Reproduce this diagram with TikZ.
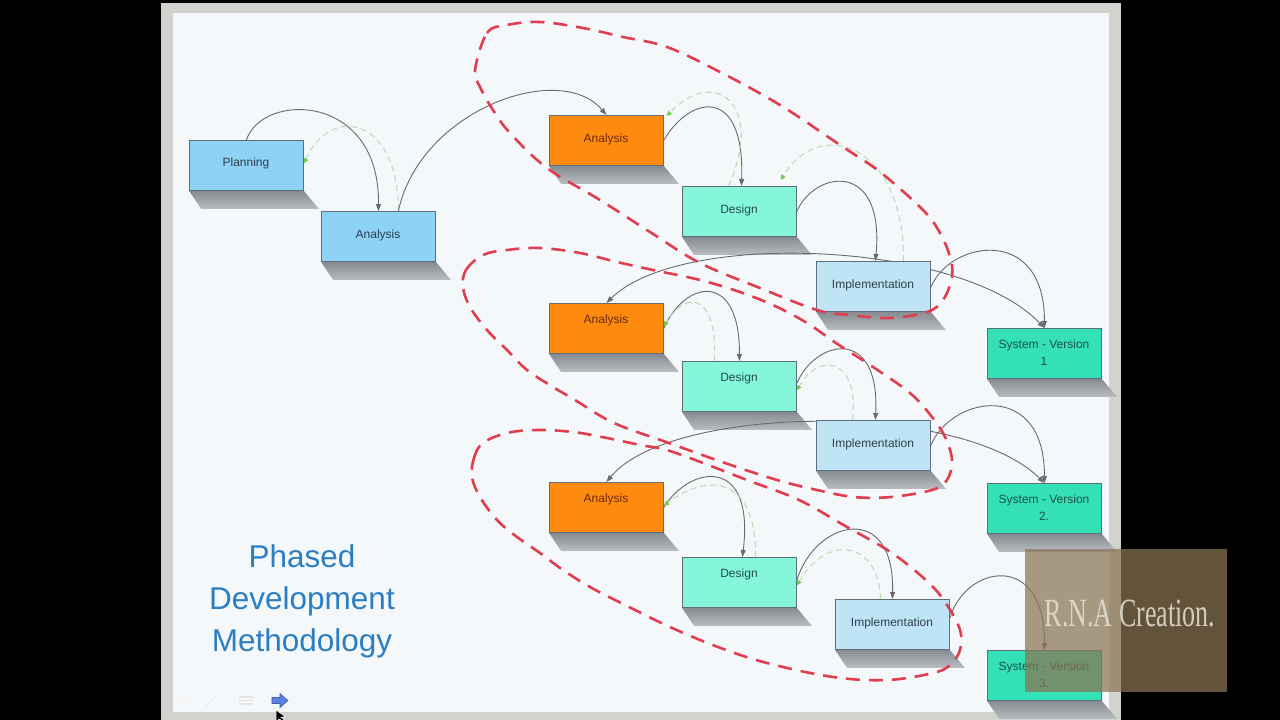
\documentclass[tikz,border=0pt]{standalone}
\usepackage{fontspec}
\setmainfont{Liberation Sans}
\newfontfamily\wmfont{Liberation Serif}
\usetikzlibrary{arrows.meta}
\pgfdeclarelayer{bg}\pgfdeclarelayer{shd}\pgfdeclarelayer{cn}\pgfdeclarelayer{fg}
\pgfsetlayers{bg,shd,cn,main,fg}
\definecolor{slidebg}{HTML}{F5F8FB}
\definecolor{framec}{HTML}{D2D2CE}
\definecolor{cblue}{HTML}{8ED3F5}
\definecolor{corange}{HTML}{FF8A10}
\definecolor{cdesign}{HTML}{86F6DB}
\definecolor{cimpl}{HTML}{BEE4F6}
\definecolor{csys}{HTML}{34E0B6}
\definecolor{bordc}{HTML}{5E6E7A}
\definecolor{txtc}{HTML}{2C3E50}
\definecolor{txto}{HTML}{6B2A05}
\definecolor{txtd}{HTML}{1E5045}
\definecolor{connc}{HTML}{6A6A6A}
\definecolor{greenl}{HTML}{B4DDB0}
\definecolor{greena}{HTML}{72CC48}
\definecolor{redc}{HTML}{E03E4E}
\definecolor{titlec}{HTML}{2C7EC2}
\definecolor{shadtop}{HTML}{858B91}
\definecolor{shadbot}{HTML}{B9BDC1}
\definecolor{wmc}{HTML}{8A7452}
\definecolor{wmt}{HTML}{E6E1D6}
\definecolor{navfill}{HTML}{5B80E0}
\definecolor{navdraw}{HTML}{3A5CB8}
\begin{document}
\begin{tikzpicture}[x=1pt,y=-1pt,
  box/.style={draw=bordc, line width=0.8pt, minimum width=114pt, minimum height=50pt, inner sep=0pt, anchor=north west},
  lbl/.style={font=\fontsize{12}{17}\selectfont, inner sep=0pt, align=center, text height=8.5pt, text depth=2.5pt, text=txtc},
  syslbl/.style={font=\fontsize{12}{17}\selectfont, inner sep=0pt, align=center, text=txtd},
  conn/.style={draw=connc, line width=0.9pt, -{Triangle[length=7pt,width=5pt]}},
  both/.style={draw=connc, line width=0.9pt, {Triangle[length=7pt,width=5pt]}-{Triangle[length=7pt,width=5pt]}},
  back/.style={draw=greenl, line width=1pt, dash pattern=on 6pt off 4pt, -{Triangle[length=5pt,width=5pt,color=greena]}},
  ring/.style={draw=redc, line width=2.6pt, dash pattern=on 14pt off 9pt},
  shadow/.style={top color=shadtop, bottom color=shadbot}
]
\useasboundingbox (0,0) rectangle (1280,720);
\begin{pgfonlayer}{bg}
\fill[black] (0,0) rectangle (1280,720);
\fill[framec] (161,3) rectangle (1121,720);
\fill[slidebg] (173,13) rectangle (1109,712);
\end{pgfonlayer}

% boxes
\node[box, fill=cblue]   (plan) at (189,140) {};
\node[box, fill=cblue]   (an1)  at (321,211) {};
\node[box, fill=corange] (aA)   at (549,115) {};
\node[box, fill=cdesign] (de1)  at (682,186) {};
\node[box, fill=cimpl]   (im1)  at (816,261) {};
\node[box, fill=csys]    (sv1)  at (987,328) {};
\node[box, fill=corange] (aB)   at (549,303) {};
\node[box, fill=cdesign] (de2)  at (682,361) {};
\node[box, fill=cimpl]   (im2)  at (816,420) {};
\node[box, fill=csys]    (sv2)  at (987,483) {};
\node[box, fill=corange] (aC)   at (549,482) {};
\node[box, fill=cdesign] (de3)  at (682,557) {};
\node[box, fill=cimpl]   (im3)  at (835,599) {};
\node[box, fill=csys]    (sv3)  at (987,650) {};

% shadows
\begin{pgfonlayer}{shd}
\foreach \n in {plan,an1,aA,de1,im1,sv1,aB,de2,im2,sv2,aC,de3,im3,sv3}{
  \shade[shadow] (\n.south west) -- (\n.south east) -- ([xshift=15pt,yshift=-18pt]\n.south east)
     -- ([xshift=12pt,yshift=-18pt]\n.south west) -- cycle;
}
\end{pgfonlayer}

% labels
\node[lbl] (planT) at (246,163) {Planning};
\node[lbl] (an1T)  at (378,235) {Analysis};
\node[lbl, text=txto] (aAT) at (606,139) {Analysis};
\node[lbl, text=txtd] (de1T) at (739,210) {Design};
\node[lbl] (im1T)  at (873,285) {Implementation};
\node[lbl, text=txto] (aBT) at (606,320) {Analysis};
\node[lbl, text=txtd] (de2T) at (739,378) {Design};
\node[lbl] (im2T)  at (873,444) {Implementation};
\node[lbl, text=txto] (aCT) at (606,499) {Analysis};
\node[lbl, text=txtd] (de3T) at (739,574) {Design};
\node[lbl] (im3T)  at (892,623) {Implementation};
\node[syslbl] (sv1T) at (1044,353) {System - Version\\1};
\node[syslbl] (sv2T) at (1044,508) {System - Version\\2.};
\node[syslbl] (sv3T) at (1044,675) {System - Version\\3.};

% connectors
\begin{pgfonlayer}{cn}
\draw[conn] (plan.north) .. controls (262,92) and (380,92) .. (an1.north);
\draw[back] ([xshift=20pt]an1.north) .. controls (398,115) and (330,105) .. ([yshift=2pt]plan.east);
\draw[conn] ([xshift=20pt]an1.north) .. controls (420,110) and (560,60) .. (aA.north);

\draw[conn] (aA.east) .. controls (690,95) and (745,85) .. ([xshift=2pt]de1.north);
\draw[back] ([xshift=-11pt]de1.north) .. controls (765,105) and (715,65) .. ([xshift=3pt,yshift=-1pt]aA.north east);
\draw[conn] (de1.east) .. controls (815,170) and (885,160) .. ([xshift=2pt]im1.north);
\draw[back] ([xshift=30pt]im1.north) .. controls (905,145) and (820,115) .. ([xshift=-16pt,yshift=6pt]de1.north east);
\draw[both] (aB.north) .. controls (680,230) and (960,240) .. (sv1.north);
\draw[conn] ([yshift=-1pt]im1.east) .. controls (950,240) and (1045,225) .. (sv1.north);

\draw[conn] (aB.east) .. controls (685,280) and (740,270) .. (de2.north);
\draw[back] ([xshift=-25pt]de2.north) .. controls (718,300) and (690,285) .. ([yshift=2pt]aB.east);
\draw[conn] ([yshift=3pt]de2.east) .. controls (815,340) and (880,325) .. ([xshift=2pt]im2.north);
\draw[back] ([xshift=-21pt]im2.north) .. controls (860,360) and (820,350) .. ([yshift=-4pt]de2.east);
\draw[both] (aC.north) .. controls (670,405) and (960,400) .. (sv2.north);
\draw[conn] (im2.east) .. controls (952,395) and (1045,380) .. (sv2.north);

\draw[conn] (aC.east) .. controls (690,465) and (755,455) .. ([xshift=3pt]de3.north);
\draw[back] ([xshift=16pt]de3.north) .. controls (757,490) and (720,465) .. ([yshift=2pt]aC.east);
\draw[conn] ([yshift=2pt]de3.east) .. controls (815,520) and (895,500) .. (im3.north);
\draw[back] ([xshift=-12pt]im3.north) .. controls (880,545) and (830,530) .. ([yshift=-3pt]de3.east);
\draw[conn] ([yshift=6pt]im3.east) .. controls (965,565) and (1045,550) .. (sv3.north);
\end{pgfonlayer}

% red dashed groupings
\begin{pgfonlayer}{fg}
\draw[ring] plot[smooth cycle, tension=0.6] coordinates {
 (475,70) (487,33) (507,25) (540,22) (583,28) (623,37) (667,47) (720,72) (780,105) (840,145)
 (880,172) (923,210) (940,233) (950,257) (952,277) (943,300) (927,312) (890,318) (850,315)
 (817,310) (760,288) (700,263) (650,232) (600,200) (547,168) (510,133) (493,110) (480,87)};
\draw[ring] plot[smooth cycle, tension=0.6] coordinates {
 (463,287) (466,270) (483,255) (507,250) (540,248) (580,253) (617,262) (653,270) (700,280)
 (740,292) (775,306) (807,323) (836,343) (873,367) (910,393) (932,417) (945,437) (952,460)
 (947,480) (932,490) (891,497) (854,497) (817,490) (777,480) (725,463) (669,443) (614,423)
 (575,400) (553,387) (527,370) (507,350) (487,330) (470,307)};
\draw[ring] plot[smooth cycle, tension=0.6] coordinates {
 (472,477) (474,458) (483,443) (507,433) (537,430) (573,432) (607,438) (640,445) (673,452)
 (747,480) (799,500) (847,527) (892,553) (929,583) (947,605) (960,630) (960,650) (950,665)
 (933,673) (887,680) (833,677) (767,663) (718,647) (670,627) (621,603) (590,587) (563,570)
 (540,553) (517,537) (497,520) (480,497)};

% title
\node[font=\fontsize{31.5}{42}\selectfont, text=titlec, align=center, inner sep=0pt] (title) at (302,601) {Phased\\Development\\Methodology};

% slideshow controls
\fill[white!92!gray] (176,695) rectangle (186,704);
\draw[white!85!gray, line width=1pt] (205,707) -- (216,695);
\draw[white!80!gray, line width=1.2pt] (239,697) -- (253,697) (239,700.5) -- (253,700.5) (239,704) -- (253,704);
\filldraw[fill=navfill, draw=navdraw, line width=0.6pt]
  (272,697.5) -- (280,697.5) -- (280,693.5) -- (288,700.5) -- (280,707.5) -- (280,703.5) -- (272,703.5) -- cycle;
\filldraw[fill=black, draw=white, line width=0.5pt] (276,710) -- (276,722) -- (279,719) -- (283,721) -- (284,719) -- (281,717.5) -- (285,716.5) -- cycle;

% watermark
\fill[wmc, fill opacity=0.72] (1025,549) rectangle (1227,692);
\node[font=\wmfont\fontsize{40}{40}\selectfont, text=wmt, text opacity=0.85, xscale=0.65, inner sep=0pt] (wm) at (1130,614) {R.N.A Creation.};
\end{pgfonlayer}
\end{tikzpicture}
\end{document}
